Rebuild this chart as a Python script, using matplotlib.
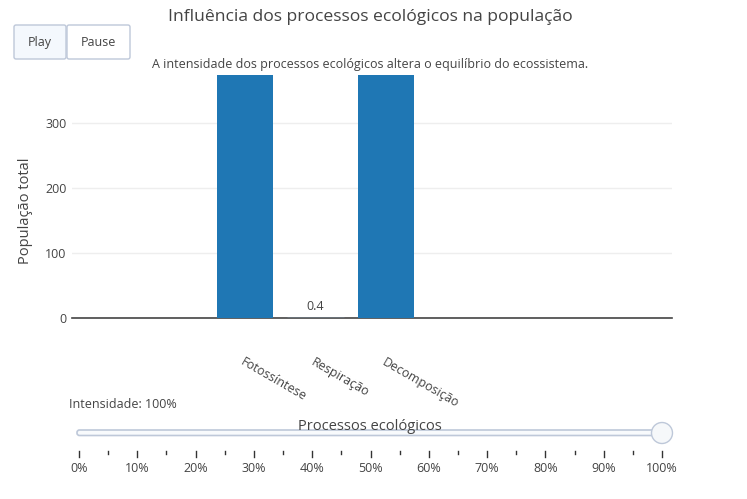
import matplotlib
matplotlib.use("Agg")
import matplotlib.pyplot as plt
from matplotlib.patches import FancyBboxPatch, Circle

# ---- data ----
categories = ["Fotossíntese", "Respiração", "Decomposição"]
populacao = [480, 0.4, 450]
y_ticks = [0, 100, 200, 300]
slider_steps = [0, 10, 20, 30, 40, 50, 60, 70, 80, 90, 100]
slider_minor = [5, 15, 25, 35, 45, 55, 65, 75, 85, 95]
slider_value = 100

title = "Influência dos processos ecológicos na população"
subtitle = "A intensidade dos processos ecológicos altera o equilíbrio do ecossistema."

W, H = 747, 499
DPI = 100
TXT = "#444444"
BLUE = "#1f77b4"
FS = 9.0
plt.rcParams["font.family"] = ["Open Sans", "DejaVu Sans"]

fig = plt.figure(figsize=(W / DPI, H / DPI), dpi=DPI)

# main plot area (pixel coords)
L, R, T, B = 72, 672, 75, 318
ax = fig.add_axes([L / W, 1 - B / H, (R - L) / W, (B - T) / H])
x = list(range(len(categories)))
ax.bar(x, populacao, width=0.8, color=BLUE, zorder=3)
ax.set_xlim(-2.454, 6.057)
ax.set_ylim(0, 374)
ax.set_yticks(y_ticks)
ax.set_yticklabels([str(v) for v in y_ticks], fontsize=FS, color=TXT)
ax.tick_params(axis="y", length=0, pad=4)
ax.grid(axis="y", color="#eeeeee", linewidth=1, zorder=0)
for s in ["top", "right", "left"]:
    ax.spines[s].set_visible(False)
ax.spines["bottom"].set_color(TXT)
ax.spines["bottom"].set_linewidth(1.2)
ax.spines["bottom"].set_zorder(2)
ax.set_xticks(x)
ax.set_xticklabels(categories, fontsize=FS, color=TXT, rotation=-30,
                   ha="left", va="top", rotation_mode="anchor")
ax.tick_params(axis="x", length=0, pad=27)
ax.set_ylabel("População total", fontsize=10.5, color=TXT)
ax.yaxis.set_label_coords(-(L - 33) / (R - L), 0.44)
for xi, v in zip(x, populacao):
    if v < 374:
        ax.bar([xi], [v], width=0.8, color="#8fb8dc", edgecolor="#8fb8dc", lw=1, zorder=4)
        ax.text(xi, v + 8, f"{v}", ha="center", va="bottom", fontsize=FS, color=TXT)

# overlay in pixel coordinates
ov = fig.add_axes([0, 0, 1, 1])
ov.set_xlim(0, W)
ov.set_ylim(H, 0)
ov.axis("off")
ov.patch.set_alpha(0)

ov.text(370, 17, title, ha="center", va="center", fontsize=12.6, color=TXT)
ov.text(370, 64, subtitle, ha="center", va="center", fontsize=FS, color=TXT)

# buttons
ov.add_patch(FancyBboxPatch((14, 25), 52, 34, boxstyle="round,pad=0,rounding_size=2",
                            fc="#F4F8FD", ec="#BEC8D9", lw=1))
ov.add_patch(FancyBboxPatch((67, 25), 63, 34, boxstyle="round,pad=0,rounding_size=2",
                            fc="white", ec="#BEC8D9", lw=1))
ov.text(40, 42, "Play", ha="center", va="center", fontsize=FS, color=TXT)
ov.text(98.5, 42, "Pause", ha="center", va="center", fontsize=FS, color=TXT)

# slider
x0, x1 = 79, 662
def sx(v):
    return x0 + (x1 - x0) * v / 100.0

ov.text(69, 405, f"Intensidade: {slider_value}%", ha="left", va="center",
        fontsize=FS, color=TXT)
ov.add_patch(FancyBboxPatch((77, 430), 590, 5.5, boxstyle="round,pad=0,rounding_size=2.5",
                            fc="#F8FAFC", ec="#BEC8D9", lw=1.2, zorder=2))
ov.text(370, 426, "Processos ecológicos", ha="center", va="center",
        fontsize=10.5, color=TXT, zorder=3)
ov.add_patch(Circle((sx(slider_value), 433), 10.5, fc="#F6F8FA", ec="#BEC8D9", lw=1, zorder=4))
for v in slider_steps:
    ov.plot([sx(v), sx(v)], [451, 456.5], color="#333333", lw=1)
    ov.text(sx(v), 469, f"{v}%", ha="center", va="center", fontsize=FS, color=TXT)
for v in slider_minor:
    ov.plot([sx(v), sx(v)], [451, 454], color="#333333", lw=1)

fig.savefig("out.png", dpi=DPI)
